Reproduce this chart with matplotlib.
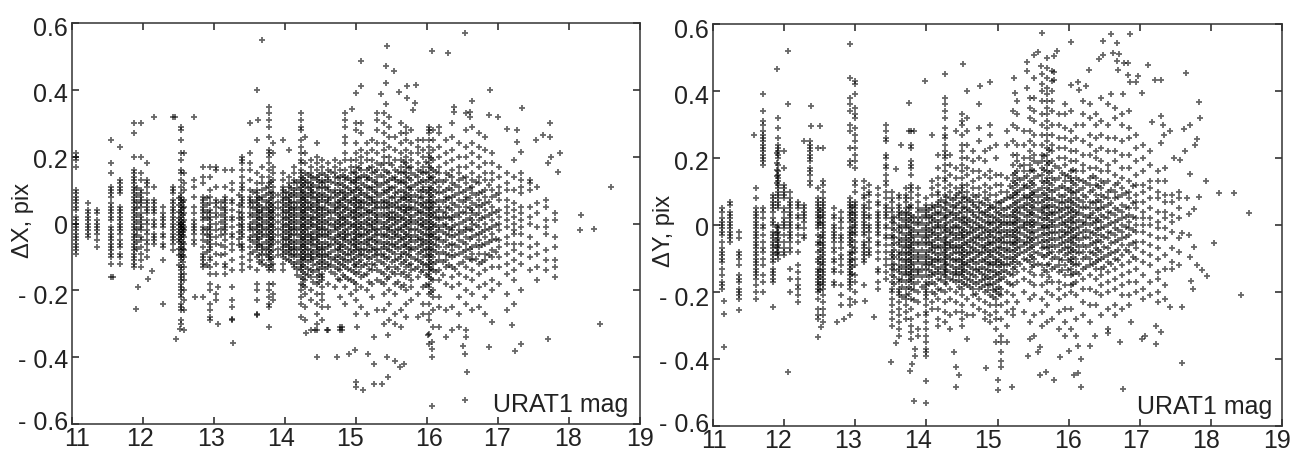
import matplotlib
matplotlib.use('Agg')
import matplotlib.pyplot as plt
from matplotlib.transforms import ScaledTranslation

plt.rcParams['font.family'] = ['Liberation Sans', 'DejaVu Sans']

W, H = 1292, 451

x_ticks = [11, 12, 13, 14, 15, 16, 17, 18, 19]
y_ticks = [-0.6, -0.4, -0.2, 0, 0.2, 0.4, 0.6]
y_labels = ['- 0.6', '- 0.4', '- 0.2', '0', '0.2', '0.4', '0.6']

# magnitude columns, residuals in hundredths of a pixel
dx_cols = [
 (11.05, [21,20,19,17,10,9,8,7,6,5,4,2,1,0,-1,-2,-3,-4,-5,-6,-7,-8,-9]),
 (11.22, [6,4,3,2,1,0,-1,-2,-3,-4]),
 (11.35, [4,3,1,0,-1,-2,-3,-5,-7]),
 (11.55, [25,18,15,11,10,9,8,6,5,4,3,2,1,-1,-2,-3,-4,-5,-6,-7,-8,-9,-10,-12,-16]),
 (11.68, [23,13,12,11,10,9,5,4,3,2,1,0,-1,-2,-3,-5,-6,-7,-9,-10,-12]),
 (11.88, [30,27,20,16,15,14,13,12,11,10,9,8,7,6,5,4,3,2,1,0,-1,-2,-3,-4,-5,-6,-7,-8,-9,-10,-11,-12,-13]),
 (11.97, [30,20,15,13,10,9,8,7,6,5,3,2,1,0,-1,-2,-4,-5,-7,-9,-11,-13]),
 (12.05, [18,13,12,11,9,7,6,5,4,3,1,0,-2,-3,-5,-6,-8,-10]),
 (12.15, [11,7,6,5,4,3,1,0,-1,-3,-4,-5,-6]),
 (12.28, [5,3,2,1,0,-1,-3,-4,-6,-7,-11]),
 (12.42, [32,11,10,9,7,6,5,4,3,2,1,0,-1,-2,-3,-4,-5,-6,-8]),
 (12.53, [29,28,25,21,19,16,15,13,11,9,8,7,6,5,4,3,2,1,0,0,-1,-1,-2,-3,-4,-5,-6,-7,-8,-9,-10,-11,-13,-14,-15,-16,-17,-18,-19,-20,-21,-22,-24,-25,-26,-29,-30]),
 (12.58, [21,15,12,10,7,5,3,1,-1,-2,-4,-6,-8,-10,-13,-15,-17,-20,-23,-26,-32]),
 (12.72, [32,13,11,8,5,3,1,0,-1,-2,-3,-5,-6]),
 (12.85, [17,14,12,8,7,6,5,4,3,2,1,-1,-2,-3,-5,-7,-9,-10,-11,-12,-13,-22]),
 (12.95, [17,14,10,8,6,4,3,2,1,0,-1,-2,-3,-4,-5,-6,-7,-8,-10,-11,-13,-15,-18,-20,-24,-26,-28,-29]),
 (13.03, [17,16,11,7,6,5,3,2,0,-2,-4,-6,-9,-12,-15,-21,-23]),
 (13.15, [16,11,8,7,6,5,4,3,2,1,0,-1,-2,-3,-5,-7,-9,-12,-13,-15]),
 (13.25, [16,12,10,7,6,4,2,1,-1,-3,-4,-6,-8,-11,-14,-19,-23,-25,-29]),
 (13.4, [20,19,18,16,14,12,11,10,8,7,6,5,3,2,1,0,-1,-2,-3,-4,-6,-7,-8,-10,-12,-14]),
 (13.5, [30,21,18,16,13,10,8,7,6,5,3,2,0,-1,-2,-4,-5,-7,-9,-11,-13]),
 (13.6, [25,15,12,10,9,8,7,6,5,4,3,2,1,0,-1,-2,-3,-4,-5,-6,-7,-8,-10,-14,-18,-20,-23,-27]),
 (13.68, [17,14,12,10,8,7,5,4,3,2,1,0,-1,-2,-3,-4,-6,-7,-8,-9,-11,-12]),
 (13.77, [35,33,31,29,26,22,21,20,18,16,14,12,11,9,7,6,5,4,3,2,1,0,-1,-2,-3,-4,-5,-6,-7,-8,-9,-10,-11,-13,-14,-18,-20,-22,-24,-25]),
 (13.83, [24,21,17,15,13,11,9,8,6,5,4,3,2,1,0,-1,-2,-3,-4,-5,-6,-8,-10,-12,-14,-18,-21,-23]),
 (13.97, [25,15,13,11,10,9,8,7,6,5,4,3,2,1,0,-1,-2,-3,-4,-5,-6,-7,-8,-9,-10,-12,-14]),
 (14.05, [22,14,12,11,9,8,7,6,5,4,3,2,1,0,-1,-2,-3,-4,-5,-6,-7,-8,-9,-11]),
 (14.13, [17,15,13,12,10,9,8,6,5,4,3,2,1,0,-1,-2,-3,-5,-6,-7,-8,-9,-10,-12,-13]),
 (14.22, [33,31,29,28,25,23,21,19,18,16,15,14,13,12,11,10,9,8,7,6,5,4,3,2,1,0,-1,-2,-3,-4,-5,-6,-7,-8,-9,-10,-11,-12,-13,-14,-16,-18,-20,-22,-24,-28]),
 (14.28, [26,21,18,15,13,12,11,9,8,7,6,5,4,3,2,1,0,-1,-2,-3,-4,-5,-6,-7,-8,-9,-10,-11,-13,-15,-17,-19,-21,-25,-29]),
 (14.36, [19,17,15,14,12,11,10,9,8,6,5,4,2,1,0,-1,-3,-4,-5,-6,-8,-9,-10,-11,-14,-16,-20,-23,-32]),
 (14.45, [24,20,18,16,14,13,11,9,8,7,6,5,4,3,2,1,0,-1,-2,-3,-4,-5,-6,-7,-8,-9,-10,-12,-14,-16,-18,-21,-24,-27,-30,-32]),
 (14.52, [19,17,15,13,12,11,9,8,7,5,4,3,2,1,0,-1,-2,-3,-4,-6,-7,-8,-9,-10,-11,-12,-13,-15,-16,-17,-19,-21,-23,-25,-29]),
 (14.6, [18,16,14,13,11,10,8,7,6,4,3,1,0,-2,-3,-4,-6,-7,-9,-10,-12,-13,-18,-25,-32]),
 (14.7, [19,17,15,14,12,10,9,8,6,5,4,3,1,0,-1,-2,-4,-5,-6,-8,-10,-11,-13,-15,-19]),
 (14.78, [18,16,14,12,10,9,7,6,5,3,2,1,0,-1,-3,-4,-6,-7,-8,-10,-12,-14,-17,-22,-31,-32]),
 (14.85, [33,31,29,26,24,21,19,16,14,13,11,9,8,7,5,4,2,1,0,-2,-3,-4,-5,-7,-9,-11,-13,-16,-19,-24]),
 (14.93, [19,17,15,13,12,10,9,7,6,4,3,2,0,-1,-3,-5,-6,-8,-9,-11,-14,-17,-21]),
 (15.0, [30,28,24,21,19,17,15,14,13,12,11,10,8,7,6,5,4,3,2,1,0,-1,-2,-3,-4,-5,-6,-7,-8,-10,-12,-13,-15,-18,-20,-23,-27]),
 (15.07, [30,27,22,20,18,16,14,12,10,9,7,6,5,3,2,0,-1,-3,-4,-6,-8,-9,-11,-13,-16,-19,-25]),
 (15.15, [24,21,19,16,14,13,11,9,8,6,4,3,1,0,-2,-3,-5,-6,-8,-10,-12,-15,-20,-27]),
 (15.23, [25,22,19,17,15,13,11,10,8,7,6,4,3,1,0,-1,-2,-4,-5,-7,-8,-10,-12,-14,-18,-22]),
 (15.3, [33,31,28,24,21,18,16,14,12,11,9,8,6,5,3,2,1,0,-2,-3,-5,-6,-8,-9,-11,-14,-17,-26]),
 (15.4, [33,30,27,24,22,20,18,16,14,12,10,9,7,6,5,3,2,0,-1,-3,-4,-6,-7,-9,-10,-12,-15,-18,-21,-26,-30]),
 (15.46, [32,29,26,23,20,18,15,13,11,10,8,6,5,3,2,1,-1,-2,-4,-6,-8,-10,-13,-16,-20,-24,-29]),
 (15.55, [26,22,19,16,14,13,11,9,8,6,5,3,2,1,0,-2,-3,-4,-6,-7,-9,-11,-13,-15,-18,-21,-27,-30]),
 (15.63, [30,27,24,21,19,17,15,13,12,10,8,7,5,4,2,1,-1,-2,-4,-5,-7,-9,-10,-12,-15,-19,-26,-31]),
 (15.7, [29,27,25,22,20,18,17,15,14,12,11,9,8,7,5,4,3,1,0,-1,-3,-4,-6,-7,-9,-11,-13,-16,-20,-24,-28]),
 (15.78, [28,24,21,19,17,15,13,11,10,8,7,5,4,2,1,0,-2,-4,-5,-7,-8,-10,-12,-14,-17,-19,-23]),
 (15.87, [25,23,21,18,16,14,12,10,8,6,4,3,1,0,-2,-4,-5,-7,-9,-11,-13,-16,-21,-28]),
 (15.95, [25,22,20,17,15,13,11,10,8,6,5,3,1,0,-1,-3,-5,-6,-8,-10,-12,-14,-19,-24,-27]),
 (16.03, [29,28,27,25,23,21,20,18,17,15,14,13,11,10,9,8,7,6,5,4,3,2,1,0,-1,-2,-3,-4,-5,-6,-7,-8,-9,-10,-11,-12,-13,-14,-15,-16,-18,-19,-21,-24,-27,-29,-33,-36]),
 (16.08, [28,25,22,19,16,14,12,10,8,6,5,3,2,0,-1,-3,-4,-6,-8,-10,-12,-14,-17,-20,-22,-26,-31]),
 (16.17, [29,27,23,20,17,15,13,11,9,7,5,4,2,1,-1,-2,-4,-5,-7,-9,-11,-14,-17,-22,-25,-31]),
 (16.27, [25,21,18,15,13,10,8,7,5,3,2,0,-1,-3,-5,-7,-9,-11,-13,-18,-26,-34]),
 (16.35, [30,26,22,19,16,14,12,10,8,6,4,2,1,-1,-2,-4,-6,-8,-10,-13,-16,-19,-25,-32]),
 (16.45, [24,20,17,15,13,11,9,7,5,3,2,0,-2,-3,-5,-7,-9,-12,-15,-18,-22,-27,-31]),
 (16.55, [33,28,23,20,17,14,12,10,8,7,5,3,1,-1,-2,-4,-6,-8,-10,-13,-16,-20,-24,-32,-34]),
 (16.63, [29,24,21,18,15,13,11,9,6,4,3,1,0,-2,-4,-7,-9,-11,-14,-17,-21,-26]),
 (16.73, [27,23,20,17,14,12,9,7,5,3,1,-1,-3,-5,-7,-9,-12,-15,-19,-25]),
 (16.82, [26,22,18,15,13,10,8,6,4,2,0,-2,-4,-6,-9,-11,-14,-18,-22,-27]),
 (16.92, [21,18,15,13,10,8,5,3,1,-1,-3,-5,-8,-10,-13,-17,-20]),
 (17.02, [17,14,11,9,7,4,2,0,-2,-5,-7,-10,-13,-18]),
 (17.12, [15,12,10,7,5,3,1,-1,-4,-6,-9,-12,-15,-21,-26]),
 (17.22, [19,14,10,6,4,2,0,-2,-3,-6,-8,-11,-14,-17,-24]),
 (17.33, [15,13,11,9,5,3,1,-1,-3,-6,-9,-12,-20]),
 (17.45, [13,12,10,5,2,0,-4,-7,-10,-14]),
 (17.55, [11,6,3,-1,-6,-9,-13,-17]),
 (17.68, [7,5,1,-1,-3,-8,-11,-14]),
 (17.8, [3,1,-4,-7,-11,-13,-16]),
]

# second pass over the crowded middle of the left panel
dx_core = [
 (11.92, [.5,2.5,4.5,6.5,8.5,10.5,-1.5,-3.5,-5.5,-7.5]),
 (12.5, [1.5,.5,-.5,-1.5,-2.5,-3.5,-4.5,-5.5,3.5,5.5,7.5,-7.5,-9.5,-12.5]),
 (12.56, [.5,-1.5,-.5,-2.5,-3.5,2.5,4.5,6.5,-5.5,-7.5,-9.5,-11.5]),
 (12.9, [1.5,3.5,5.5,-1.5,-3.5,-5.5,-8.5,-12.5,7.5]),
 (13.1, [4.5,2.5,.5,-1.5,-3.5,6.5,-6.5,-9.5]),
 (13.35, [5.5,3.5,1.5,-.5,-2.5,-4.5,-6.5,8.5]),
 (13.55, [6.5,4.5,2.5,.5,-1.5,-3.5,-5.5,-8.5,9.5]),
 (13.64, [7.5,5.5,3.5,1.5,-.5,-2.5,-4.5,-6.5,-9.5,-11.5]),
 (13.73, [8.5,6.5,4.5,2.5,.5,-1.5,-3.5,-5.5,-7.5,-9.5,-12.5,10.5]),
 (13.8, [7.5,5.5,3.5,1.5,-.5,-2.5,-4.5,-6.5,-8.5,-10.5,-12.5,9.5,12.5]),
 (13.9, [6.5,4.5,2.5,.5,-1.5,-3.5,-5.5,-7.5,-9.5,8.5]),
 (14.01, [7.5,5.5,3.5,1.5,-.5,-2.5,-4.5,-6.5,-8.5,9.5,-10.5]),
 (14.09, [10.5,8.5,6.5,4.5,2.5,.5,-1.5,-3.5,-5.5,-7.5,-9.5,-11.5]),
 (14.17, [12.5,10.5,8.5,6.5,4.5,2.5,.5,-1.5,-3.5,-5.5,-7.5,-9.5,-11.5,-13.5,-15.5]),
 (14.25, [13.5,11.5,9.5,7.5,5.5,3.5,1.5,-.5,-2.5,-4.5,-6.5,-8.5,-10.5,-12.5,-14.5,-16.5,-18.5]),
 (14.32, [14.5,12.5,10.5,8.5,6.5,4.5,2.5,.5,-1.5,-3.5,-5.5,-7.5,-9.5,-11.5,-13.5,-15.5]),
 (14.4, [13.5,11.5,9.5,7.5,5.5,3.5,1.5,-.5,-2.5,-4.5,-6.5,-8.5,-10.5,-12.5,-14.5,-17.5]),
 (14.48, [14.5,12.5,10.5,8.5,6.5,4.5,2.5,.5,-1.5,-3.5,-5.5,-7.5,-9.5,-11.5,-13.5,-15.5,-17.5]),
 (14.56, [14.5,12.5,10.5,8.5,6.5,4.5,2.5,.5,-1.5,-3.5,-5.5,-7.5,-9.5,-11.5,-13.5]),
 (14.65, [15.5,12.5,9.5,7.5,5.5,3.5,1.5,-.5,-2.5,-4.5,-6.5,-8.5,-10.5,-12.5,-14.5]),
 (14.74, [13.5,11.5,8.5,6.5,4.5,2.5,.5,-1.5,-3.5,-5.5,-7.5,-9.5,-11.5,-13.5,-16.5]),
 (14.82, [14.5,11.5,9.5,7.5,5.5,3.5,1.5,-.5,-2.5,-4.5,-6.5,-8.5,-10.5,-12.5,-15.5]),
 (14.89, [13.5,10.5,8.5,6.5,4.5,2.5,.5,-1.5,-3.5,-5.5,-7.5,-9.5,-11.5,-13.5,-16.5]),
 (14.97, [15.5,12.5,9.5,7.5,5.5,3.5,1.5,-.5,-2.5,-4.5,-6.5,-8.5,-10.5,-12.5,-14.5,-17.5]),
 (15.04, [16.5,13.5,10.5,8.5,6.5,4.5,2.5,.5,-1.5,-3.5,-5.5,-7.5,-9.5,-11.5,-14.5]),
 (15.11, [14.5,11.5,8.5,6.5,4.5,2.5,.5,-1.5,-3.5,-5.5,-7.5,-9.5,-12.5,-15.5]),
 (15.19, [16.5,13.5,10.5,7.5,5.5,3.5,1.5,-.5,-2.5,-4.5,-6.5,-8.5,-10.5,-13.5,-17.5]),
 (15.27, [15.5,12.5,9.5,6.5,4.5,2.5,.5,-1.5,-3.5,-5.5,-7.5,-9.5,-12.5]),
 (15.35, [17.5,14.5,11.5,8.5,6.5,4.5,2.5,.5,-1.5,-3.5,-5.5,-7.5,-9.5,-11.5,-14.5,-17.5]),
 (15.43, [15.5,12.5,9.5,6.5,4.5,2.5,.5,-1.5,-3.5,-5.5,-7.5,-10.5,-13.5,-16.5]),
 (15.51, [17.5,13.5,10.5,7.5,5.5,3.5,1.5,-.5,-2.5,-4.5,-6.5,-8.5,-11.5,-14.5]),
 (15.59, [15.5,12.5,9.5,6.5,4.5,2.5,.5,-1.5,-3.5,-5.5,-7.5,-10.5,-13.5,-17.5]),
 (15.67, [18.5,15.5,12.5,9.5,7.5,5.5,3.5,1.5,-.5,-2.5,-4.5,-6.5,-8.5,-11.5,-14.5,-18.5]),
 (15.74, [16.5,13.5,10.5,8.5,6.5,4.5,2.5,.5,-1.5,-3.5,-5.5,-7.5,-9.5,-12.5,-15.5]),
 (15.83, [14.5,11.5,8.5,6.5,4.5,2.5,.5,-1.5,-3.5,-5.5,-7.5,-10.5,-13.5]),
 (15.91, [15.5,12.5,9.5,7.5,5.5,3.5,1.5,-.5,-2.5,-4.5,-6.5,-8.5,-11.5,-14.5]),
 (15.99, [18.5,15.5,12.5,9.5,6.5,4.5,2.5,.5,-1.5,-3.5,-5.5,-7.5,-9.5,-12.5,-15.5,-18.5]),
 (16.05, [19.5,16.5,13.5,10.5,8.5,6.5,4.5,2.5,.5,-1.5,-3.5,-5.5,-7.5,-9.5,-11.5,-13.5,-16.5,-20.5]),
 (16.13, [15.5,12.5,9.5,6.5,3.5,1.5,-.5,-2.5,-4.5,-6.5,-8.5,-11.5,-14.5]),
 (16.22, [12.5,9.5,6.5,3.5,1.5,-.5,-2.5,-5.5,-8.5,-11.5,-15.5]),
 (16.31, [14.5,10.5,7.5,4.5,1.5,-1.5,-3.5,-6.5,-9.5,-12.5]),
 (16.4, [11.5,8.5,5.5,2.5,-.5,-3.5,-6.5,-9.5,-13.5]),
 (16.5, [13.5,9.5,6.5,3.5,.5,-2.5,-5.5,-8.5,-11.5]),
 (16.6, [10.5,7.5,4.5,1.5,-1.5,-4.5,-7.5,-10.5]),
 (16.69, [12.5,8.5,5.5,2.5,-.5,-3.5,-6.5,-10.5]),
 (16.78, [9.5,5.5,1.5,-2.5,-6.5,-11.5]),
 (16.88, [11.5,6.5,2.5,-1.5,-5.5,-9.5]),
 (16.97, [8.5,3.5,-.5,-4.5,-8.5]),
]

dx_extra_mag = [15.44,15.07,16.07,16.3,16.53,15.42,15.53,15.42,15.07,15.0,15.6,15.72,15.72,15.85,15.35,15.42,15.83,15.8,14.95,
    16.89,16.63,16.38,16.38,16.6,16.6,16.88,17.0,17.34,17.73,17.27,17.13,17.63,17.53,17.73,17.27,17.88,17.75,17.7,17.85,17.33,18.59,18.17,18.15,18.35,
    18.44,17.7,17.2,17.32,17.24,16.88,16.92,16.57,16.54,16.07,16.53,16.5,16.07,16.07,16.07,16.02,15.0,15.0,15.1,15.25,15.36,15.45,15.25,15.43,15.55,15.67,15.62,
    14.73,14.9,14.98,15.17,14.8,14.8,15.02,15.25,15.45,
    11.93,11.9,12.07,12.13,12.28,11.58,12.47,12.52,13.06,13.27,13.26,13.77,13.6,14.45,14.3,14.42,14.59,12.73,13.05,13.67,13.6,13.62,12.15,12.45]
dx_extra = [.53,.487,.517,.51,.57,.47,.457,.42,.41,.39,.395,.41,.375,.415,.387,.358,.36,.34,.343,
    .40,.368,.35,.335,.335,.32,.325,.32,.347,.30,.28,.283,.265,.25,.26,.245,.21,.20,.18,.155,.213,.108,.025,-.02,-.015,
    -.30,-.345,-.305,-.36,-.383,-.37,-.294,-.445,-.527,-.545,-.39,-.367,-.40,-.375,-.355,-.335,-.475,-.49,-.497,-.48,-.48,-.46,-.42,-.40,-.41,-.42,-.43,
    -.40,-.39,-.38,-.39,-.31,-.32,-.31,-.34,-.335,
    -.19,-.256,-.167,-.143,-.24,-.16,-.347,-.315,-.30,-.357,-.287,-.31,-.275,-.40,-.327,-.318,-.32,-.22,-.19,.55,.40,.31,.32,.32]

dy_cols = [
 (11.12, [5,4,2,1,0,-1,-2,-3,-5,-7,-8,-9,-10,-11,-13,-15,-17,-18,-19]),
 (11.24, [7,6,4,3,2,1,0,-1,-2,-3,-4,-5]),
 (11.36, [-2,-4,-8,-9,-10,-12,-15,-16,-17,-19,-20,-21,-22]),
 (11.6, [11,8,5,4,3,2,1,0,-1,-2,-3,-4,-5,-6,-7,-8,-9,-10,-11,-12,-13,-14,-15,-16,-18,-20,-22]),
 (11.7, [39,34,31,30,28,27,26,25,24,23,22,21,20,19,18,5,4,2,0,-1,-3,-5,-7,-8,-10,-12,-15,-17,-20]),
 (11.85, [9,8,7,6,5,4,2,1,0,-2,-3,-4,-5,-6,-7,-8,-9,-10,-11,-13,-14,-15,-16,-17]),
 (11.92, [32,29,26,24,23,22,21,20,18,16,15,14,13,12,11,10,9,8,7,6,5,0,-1,-2,-3,-4,-5,-6,-7,-8,-9,-10]),
 (12.0, [22,17,12,11,10,9,8,5,4,2,1,0,-1,-3,-5,-7,-8,-9]),
 (12.08, [10,8,7,6,5,4,3,2,1,0,-1,-2,-3,-4,-5,-7,-8,-13,-16,-20]),
 (12.2, [7,6,5,3,2,0,-1,-3,-5,-8,-12,-14,-16,-18,-19,-21,-23]),
 (12.28, [25,6,5,4,3,2,1,-1,-3,-4]),
 (12.37, [25,24,23,22,21,20,19,17,16,15,13,12]),
 (12.48, [23,11,8,7,6,5,4,3,2,1,0,-1,-3,-5,-6,-8,-10,-11,-13,-14,-15,-16,-17,-18,-19,-20,-22,-25,-27,-28]),
 (12.55, [23,13,12,10,8,7,6,5,4,3,2,1,0,-1,-2,-3,-4,-5,-6,-7,-8,-9,-10,-11,-12,-13,-14,-15,-16,-17,-18,-19,-21,-23,-25,-27,-29]),
 (12.7, [5,3,2,0,-1,-2,-3,-4,-5,-7,-8,-10,-11,-13,-14,-17,-18]),
 (12.8, [4,2,1,-1,-3,-4,-5,-7,-9,-10,-12,-14,-18,-21,-24]),
 (12.92, [44,38,36,34,30,28,23,19,18,8,7,6,5,4,3,2,1,-1,-2,-3,-4,-5,-6,-8,-9,-10,-11,-12,-13,-14,-15,-16,-17,-18,-19,-22,-24,-27]),
 (13.0, [43,42,39,35,33,32,29,27,25,23,21,19,17,13,12,10,7,6,5,4,3,2,1,0,-1,-2,-3,-5,-7,-8,-10,-12,-15,-17,-20,-23]),
 (13.12, [13,11,9,8,6,5,4,3,2,1,0,-1,-2,-3,-5,-6,-7,-8,-9,-10,-11,-18]),
 (13.2, [12,10,9,7,5,3,2,0,-1,-2,-4,-5,-7,-8,-9]),
 (13.32, [11,9,7,6,4,3,2,1,0,-1,-2,-3,-5,-6,-8,-10,-13,-14,-17,-19]),
 (13.43, [30,28,26,25,21,20,18,17,15,13,12,10,8,6,5,4,3,2,0,-1,-3,-4,-6,-8,-10,-12,-14,-16]),
 (13.52, [10,8,7,5,4,2,1,-1,-3,-4,-6,-8,-9,-10,-12,-13,-15,-17,-19,-20,-22,-24,-26,-28,-30]),
 (13.62, [9,8,6,5,4,3,2,0,-1,-2,-4,-5,-6,-8,-9,-10,-12,-13,-14,-16,-17,-19,-20,-21,-23,-25,-27,-29,-31,-33]),
 (13.72, [11,9,8,7,5,4,3,2,1,0,-1,-3,-4,-5,-6,-7,-8,-9,-10,-11,-12,-13,-14,-15,-17,-19,-21,-22,-24,-26,-28]),
 (13.79, [28,24,23,19,18,17,15,12,11,10,8,6,5,3,2,1,-1,-2,-3,-4,-5,-6,-7,-8,-9,-10,-11,-12,-13,-14,-15,-16,-17,-19,-22,-25,-28,-30,-32,-34]),
 (13.88, [11,9,7,5,4,2,1,0,-2,-3,-5,-6,-8,-9,-10,-11,-13,-14,-15,-17,-20,-23,-27,-31,-33]),
 (14.0, [8,6,5,4,3,2,0,-1,-2,-3,-4,-5,-6,-8,-9,-10,-11,-12,-13,-15,-17,-18,-19,-20,-21,-22,-24,-26,-27,-29,-31,-33,-35,-37,-38,-39]),
 (14.08, [13,11,9,6,5,3,2,1,-1,-2,-3,-5,-6,-7,-8,-10,-11,-12,-14,-15,-17,-20,-23,-25]),
 (14.16, [21,17,14,12,10,9,7,6,4,3,1,0,-1,-3,-4,-6,-7,-9,-10,-11,-13,-14,-16,-19,-22,-25,-28,-30]),
 (14.26, [38,36,34,32,29,27,26,24,22,21,20,18,16,14,13,11,9,7,5,3,2,0,-1,-2,-4,-5,-6,-7,-8,-9,-10,-11,-12,-13,-14,-15,-17,-20,-23,-26,-29]),
 (14.33, [21,18,15,12,10,8,6,4,3,1,-1,-2,-3,-5,-6,-7,-9,-10,-12,-14,-16,-19,-22,-27,-31]),
 (14.42, [17,14,11,9,8,6,5,3,2,0,-1,-3,-4,-6,-7,-8,-10,-11,-13,-14,-15,-17,-20,-23,-26]),
 (14.5, [33,31,30,27,24,22,20,18,16,14,12,11,10,8,7,5,4,2,1,-1,-2,-3,-4,-6,-7,-8,-9,-10,-11,-12,-13,-14,-15,-17,-19,-21,-24,-26,-28,-30]),
 (14.57, [32,28,24,20,17,15,12,10,8,7,5,4,2,1,0,-2,-3,-5,-6,-8,-9,-11,-12,-14,-16,-18,-22,-27]),
 (14.66, [22,19,16,13,11,9,7,6,4,3,1,-1,-2,-4,-5,-7,-8,-10,-11,-13,-15,-17,-19,-21,-24,-27]),
 (14.74, [36,29,25,20,16,14,11,9,7,5,4,2,0,-1,-3,-4,-6,-8,-9,-11,-13,-14,-17,-19,-22,-25]),
 (14.82, [22,19,15,12,10,8,6,4,3,1,-1,-2,-4,-6,-7,-8,-10,-11,-13,-15,-16,-18,-20,-23,-26,-28]),
 (14.9, [30,27,23,16,14,11,9,6,5,3,1,0,-2,-3,-5,-6,-8,-9,-11,-12,-14,-16,-18,-21,-24,-27,-29]),
 (14.98, [24,20,15,12,9,7,5,4,2,1,-1,-2,-4,-5,-7,-8,-10,-11,-12,-14,-15,-17,-19,-20,-22,-24,-26,-28,-31,-35]),
 (15.05, [15,12,10,7,5,3,1,0,-2,-4,-5,-7,-9,-11,-12,-14,-16,-19,-21,-24,-28,-33,-35,-38]),
 (15.13, [28,24,14,10,8,5,3,1,0,-2,-3,-5,-7,-8,-10,-12,-14,-17,-20,-23,-26,-30,-35]),
 (15.22, [34,30,25,21,18,15,13,11,9,8,6,4,3,1,0,-2,-3,-5,-6,-8,-10,-11,-13,-15,-18,-21,-25,-27]),
 (15.28, [37,33,29,24,21,19,16,14,12,10,9,7,5,4,2,1,-1,-2,-4,-5,-7,-9,-11,-14,-17,-23]),
 (15.37, [28,24,20,18,16,14,12,11,9,8,6,5,3,1,0,-1,-3,-5,-6,-8,-10,-13,-16,-20,-26]),
 (15.45, [38,35,32,28,25,22,20,18,16,13,11,9,8,6,4,3,1,0,-2,-4,-5,-7,-9,-11,-14,-17,-22,-29,-34]),
 (15.52, [44,38,34,31,27,24,21,19,16,14,12,10,9,7,5,3,1,0,-2,-4,-6,-8,-10,-12,-15,-18,-21,-27,-33]),
 (15.62, [45,42,40,37,33,30,27,24,21,19,17,15,13,11,9,7,5,4,2,0,-1,-3,-5,-7,-9,-12,-15,-18,-22,-26,-30]),
 (15.7, [47,44,41,39,37,35,33,31,29,27,25,23,21,19,18,16,14,13,11,9,8,6,5,3,2,0,-1,-3,-5,-7,-9,-12,-14,-17,-20,-24,-29]),
 (15.76, [46,43,40,37,34,30,27,24,22,19,16,14,12,10,8,6,4,3,1,0,-2,-4,-6,-8,-10,-13,-17,-21,-28]),
 (15.86, [33,30,26,23,20,17,14,11,9,7,5,4,2,0,-2,-4,-6,-8,-10,-12,-14,-17,-19,-22,-26,-31]),
 (15.95, [36,33,29,26,23,20,18,15,13,11,9,7,5,3,1,0,-2,-3,-5,-7,-9,-12,-15,-18,-21,-25,-29,-33]),
 (16.03, [34,28,25,22,19,16,14,13,11,10,8,7,5,4,2,1,-1,-2,-4,-5,-7,-8,-10,-11,-13,-15,-18,-20,-25,-31]),
 (16.1, [30,26,22,19,16,14,12,10,8,6,4,3,1,-1,-3,-4,-6,-8,-10,-12,-14,-17,-21,-28,-33]),
 (16.2, [37,33,30,25,21,18,16,13,11,9,7,5,3,1,0,-2,-4,-6,-8,-10,-13,-16,-19,-23,-27]),
 (16.3, [36,32,27,24,21,17,14,12,10,7,5,3,2,0,-2,-4,-6,-8,-10,-12,-15,-19,-24,-29]),
 (16.38, [33,30,26,22,20,17,14,12,9,7,5,2,1,-1,-3,-5,-7,-9,-11,-13,-16,-20,-24]),
 (16.46, [38,31,27,23,19,16,13,11,9,7,5,3,1,-1,-3,-5,-8,-10,-13,-15,-18,-21,-27]),
 (16.55, [36,30,26,22,18,16,13,10,8,6,4,2,0,-2,-4,-7,-9,-11,-14,-17,-20,-25,-31]),
 (16.65, [35,32,26,22,19,15,12,10,8,5,3,1,-1,-3,-5,-8,-10,-13,-16,-19,-24,-27]),
 (16.75, [33,30,25,21,17,14,11,9,6,4,2,0,-2,-4,-6,-9,-12,-15,-18,-21,-25]),
 (16.85, [34,29,26,21,17,13,10,8,5,3,1,-1,-3,-6,-8,-11,-14,-17,-21,-24]),
 (16.95, [27,23,19,15,12,9,7,5,2,0,-2,-5,-7,-10,-13,-17,-20]),
 (17.05, [24,20,16,12,10,7,4,2,0,-2,-5,-8,-11,-15,-19,-22]),
 (17.15, [22,18,13,11,8,5,2,0,-3,-6,-9,-12,-17,-21]),
 (17.25, [16,13,10,8,4,1,-1,-4,-7,-10,-14,-16,-20,-23]),
 (17.35, [17,13,9,7,4,2,-1,-4,-9,-13,-18,-22]),
 (17.45, [9,7,3,1,-2,-7,-11,-13]),
 (17.55, [10,8,5,2,-4,-8,-12]),
]

# second pass over the crowded middle of the right panel
dy_core = [
 (11.9, [-.5,-2.5,-4.5,-6.5,-8.5,12.5,14.5,16.5,18.5,21.5]),
 (12.5, [-3.5,-5.5,-7.5,-9.5,-11.5,-13.5,-15.5,-17.5,-19.5,.5,2.5,4.5]),
 (12.95, [-4.5,-6.5,-8.5,-10.5,-12.5,-14.5,-2.5,-.5,1.5,3.5,5.5]),
 (13.55, [-3.5,-5.5,-7.5,-9.5,-11.5,-13.5,-15.5,-17.5,-1.5,.5,2.5]),
 (13.66, [-4.5,-6.5,-8.5,-10.5,-12.5,-14.5,-16.5,-18.5,-2.5,-.5,1.5,3.5,-21.5]),
 (13.76, [-2.5,-4.5,-6.5,-8.5,-10.5,-12.5,-14.5,-16.5,-18.5,-.5,1.5,3.5,5.5,-20.5]),
 (13.83, [-3.5,-5.5,-7.5,-9.5,-11.5,-13.5,-15.5,-17.5,-19.5,-1.5,.5,2.5,-22.5]),
 (13.94, [-1.5,-3.5,-5.5,-7.5,-9.5,-11.5,-13.5,-15.5,.5,2.5,4.5,-18.5]),
 (14.04, [2.5,.5,-1.5,-3.5,-5.5,-7.5,-9.5,-11.5,-13.5,-15.5,-17.5,4.5]),
 (14.12, [5.5,3.5,1.5,-.5,-2.5,-4.5,-6.5,-8.5,-10.5,-12.5,-14.5,-17.5,-20.5]),
 (14.2, [7.5,5.5,3.5,1.5,-.5,-2.5,-4.5,-6.5,-8.5,-10.5,-12.5,-14.5,-16.5,-19.5]),
 (14.28, [8.5,6.5,4.5,2.5,.5,-1.5,-3.5,-5.5,-7.5,-9.5,-11.5,-13.5,-15.5,-17.5]),
 (14.37, [7.5,5.5,3.5,1.5,-.5,-2.5,-4.5,-6.5,-8.5,-10.5,-12.5,-14.5,-16.5]),
 (14.46, [9.5,6.5,3.5,1.5,-.5,-2.5,-4.5,-6.5,-8.5,-10.5,-12.5,-14.5,-16.5,-18.5]),
 (14.53, [8.5,5.5,2.5,.5,-1.5,-3.5,-5.5,-7.5,-9.5,-11.5,-13.5,-15.5,-17.5]),
 (14.62, [7.5,4.5,1.5,-.5,-2.5,-4.5,-6.5,-8.5,-10.5,-12.5,-14.5,-16.5,-18.5]),
 (14.7, [8.5,5.5,2.5,.5,-1.5,-3.5,-5.5,-7.5,-9.5,-11.5,-13.5,-15.5,-17.5,-20.5]),
 (14.78, [6.5,3.5,1.5,-.5,-2.5,-4.5,-6.5,-8.5,-10.5,-12.5,-14.5,-16.5,-18.5]),
 (14.86, [7.5,4.5,2.5,.5,-1.5,-3.5,-5.5,-7.5,-9.5,-11.5,-13.5,-15.5,-17.5,-19.5]),
 (14.94, [5.5,2.5,.5,-1.5,-3.5,-5.5,-7.5,-9.5,-11.5,-13.5,-15.5,-17.5,-19.5,-21.5]),
 (15.02, [6.5,3.5,1.5,-.5,-2.5,-4.5,-6.5,-8.5,-10.5,-12.5,-14.5,-16.5,-18.5,-20.5]),
 (15.09, [7.5,4.5,2.5,.5,-1.5,-3.5,-5.5,-7.5,-9.5,-11.5,-13.5,-15.5]),
 (15.17, [11.5,8.5,5.5,2.5,.5,-1.5,-3.5,-5.5,-7.5,-9.5,-11.5,-14.5,-17.5]),
 (15.25, [15.5,12.5,9.5,6.5,4.5,2.5,.5,-1.5,-3.5,-5.5,-7.5,-9.5,-12.5]),
 (15.32, [17.5,13.5,10.5,7.5,5.5,3.5,1.5,-.5,-2.5,-4.5,-6.5,-8.5,-11.5]),
 (15.41, [14.5,11.5,8.5,6.5,4.5,2.5,.5,-1.5,-3.5,-5.5,-7.5,-10.5]),
 (15.49, [16.5,12.5,9.5,7.5,5.5,3.5,1.5,-.5,-2.5,-4.5,-6.5,-9.5,-12.5]),
 (15.57, [18.5,14.5,10.5,8.5,6.5,4.5,2.5,.5,-1.5,-3.5,-5.5,-8.5,-11.5]),
 (15.66, [20.5,16.5,12.5,9.5,7.5,5.5,3.5,1.5,-.5,-2.5,-4.5,-6.5,-9.5,-13.5]),
 (15.73, [22.5,18.5,15.5,12.5,10.5,7.5,5.5,3.5,1.5,-.5,-2.5,-4.5,-6.5,-8.5,-11.5,-15.5]),
 (15.81, [17.5,13.5,10.5,7.5,5.5,3.5,1.5,-.5,-2.5,-4.5,-6.5,-9.5,-12.5]),
 (15.9, [15.5,11.5,8.5,6.5,4.5,2.5,.5,-1.5,-3.5,-5.5,-7.5,-10.5,-13.5]),
 (15.99, [14.5,10.5,7.5,5.5,3.5,1.5,-.5,-2.5,-4.5,-6.5,-8.5,-10.5,-13.5]),
 (16.06, [16.5,12.5,9.5,6.5,4.5,2.5,.5,-1.5,-3.5,-5.5,-7.5,-9.5,-11.5,-14.5,-17.5]),
 (16.14, [13.5,10.5,7.5,5.5,3.5,1.5,-.5,-2.5,-4.5,-6.5,-8.5,-11.5,-14.5]),
 (16.24, [12.5,8.5,5.5,2.5,.5,-1.5,-3.5,-6.5,-9.5,-12.5]),
 (16.34, [14.5,10.5,6.5,3.5,.5,-2.5,-5.5,-8.5,-11.5]),
 (16.42, [11.5,7.5,4.5,1.5,-1.5,-4.5,-7.5,-10.5]),
 (16.5, [12.5,8.5,5.5,2.5,-.5,-3.5,-6.5,-9.5,-12.5]),
 (16.6, [10.5,6.5,3.5,.5,-2.5,-5.5,-8.5,-11.5]),
 (16.7, [12.5,8.5,4.5,1.5,-1.5,-4.5,-7.5,-10.5]),
 (16.8, [9.5,5.5,2.5,-.5,-3.5,-7.5]),
 (16.9, [11.5,6.5,2.5,-1.5,-5.5,-9.5]),
]

dy_extra_mag = [11.9,12.05,12.93,12.05,12.38,11.57,12.5,12.38,13.76,13.76,13.82,13.64,13.57,13.98,14.26,14.51,14.57,14.08,14.41,
    15.63,16.03,16.6,16.86,16.48,16.68,15.83,15.57,15.52,15.7,15.8,16.48,16.62,16.71,16.43,15.41,16.68,15.41,15.61,16.78,16.84,17.12,16.28,16.7,17.65,15.8,16.84,16.97,15.23,15.8,14.9,17.22,17.3,14.75,16.86,16.95,16.03,16.13,16.25,15.42,16.14,17.03,16.76,16.6,15.24,
    17.84,17.85,17.3,17.71,17.62,17.17,17.43,17.32,17.34,17.8,17.78,17.3,17.64,17.48,17.57,17.7,17.93,18.11,18.32,18.54,17.83,17.66,17.76,17.69,17.6,17.69,
    18.43,18.04,17.76,17.7,17.8,17.88,17.94,17.72,17.75,17.6,17.42,17.6,17.23,17.3,17.23,17.03,17.07,16.87,16.72,16.56,16.37,16.77,16.17,16.13,16.07,15.8,15.68,15.6,15.2,15.0,15.0,14.84,15.05,15.05,15.43,15.88,16.0,16.17,16.13,16.3,15.6,15.57,
    11.15,12.05,11.85,11.36,11.15,11.15,12.48,12.52,12.74,12.84,13.14,13.27,13.5,13.57,13.83,14.0,14.0,14.41,14.41,14.46,14.39,14.57,13.77,13.8,13.84,13.84]
dy_extra = [.465,.52,.54,.36,.356,.27,.295,.295,.365,.28,.28,.24,.167,.43,.45,.48,.40,.27,.28,
    .572,.547,.57,.57,.55,.542,.52,.517,.507,.50,.503,.507,.512,.51,.495,.487,.49,.46,.475,.483,.483,.478,.464,.464,.454,.456,.449,.446,.439,.433,.428,.433,.433,.414,.426,.426,.419,.426,.416,.41,.404,.394,.39,.39,.393,
    .366,.32,.326,.298,.288,.306,.28,.30,.27,.256,.24,.246,.22,.20,.195,.153,.13,.097,.097,.037,.084,.08,.047,.032,-.025,-.03,
    -.21,-.053,-.067,-.095,-.12,-.135,-.152,-.168,-.19,-.245,-.245,-.413,-.355,-.32,-.30,-.34,-.33,-.29,-.348,-.323,-.33,-.49,-.485,-.443,-.447,-.463,-.44,-.448,-.485,-.493,-.463,-.428,-.405,-.425,-.39,-.393,-.377,-.40,-.36,-.362,-.365,-.38,
    -.365,-.44,-.245,-.255,-.267,-.228,-.333,-.305,-.29,-.28,-.227,-.275,-.41,-.353,-.525,-.53,-.467,-.485,-.425,-.448,-.38,-.34,-.435,-.415,-.37,-.39]


def flatten(cols, extra_mag, extra):
    xs = list(extra_mag)
    ys = list(extra)
    for mag, vals in cols:
        for v in vals:
            xs.append(mag)
            ys.append(v / 100)
    return xs, ys


def nudge(label, dx, dy):
    # the scanned original has its tick numbers a little off the ticks
    label.set_transform(label.get_transform() + ScaledTranslation(dx / 100, -dy / 100, fig.dpi_scale_trans))


def panel(rect, cols, extra_mag, extra, ylab, ylab_pos, text_x, xoff):
    left, top, right, bottom = rect
    ax = fig.add_axes([left / W, 1 - bottom / H, (right - left) / W, (bottom - top) / H])
    xs, ys = flatten(cols, extra_mag, extra)
    ax.plot(xs, ys, '+', color='black', ms=5.0, mew=1.3, alpha=0.6)
    ax.set_xlim(11, 19)
    ax.set_ylim(-0.6, 0.6)
    ax.set_xticks(x_ticks, [str(t) for t in x_ticks])
    ax.set_yticks(y_ticks, y_labels)
    ax.tick_params(axis='both', which='major', direction='in', length=5, width=1.1, color='#222222',
                   labelsize=18, labelcolor='#222222', top=True, right=True, pad=2)
    ax.tick_params(axis='x', pad=2)
    for s in ax.spines.values():
        s.set_linewidth(1.1)
        s.set_color('#333333')
    for lab, off in zip(ax.get_xticklabels(), xoff):
        nudge(lab, off, 0)
    for lab, off in zip(ax.get_yticklabels(), [-3, 1, 4, 1, 2, 3, 4]):
        nudge(lab, -1, off)
    ax.text(text_x, -0.565, 'URAT1 mag', fontsize=18, color='#222222', ha='left', va='baseline')
    fig.text(ylab_pos[0] / W, 1 - ylab_pos[1] / H, ylab, rotation=90, fontsize=17, color='#222222',
             ha='center', va='center')
    return ax


fig = plt.figure(figsize=(W / 100, H / 100), dpi=100)
panel((72, 23, 640, 424), dx_cols + dx_core, dx_extra_mag, dx_extra, '\u0394X, pix', (23, 220), 16.93,
      [5, -3, -3, -4, -6, 2, -1, -1, 0])
panel((713, 24, 1282, 426), dy_cols + dy_core, dy_extra_mag, dy_extra, '\u0394Y, pix', (664, 231), 16.96,
      [1, -6, -7, -8, -9, -1, -4, -5, -5])
fig.savefig('out.png', dpi=100)
